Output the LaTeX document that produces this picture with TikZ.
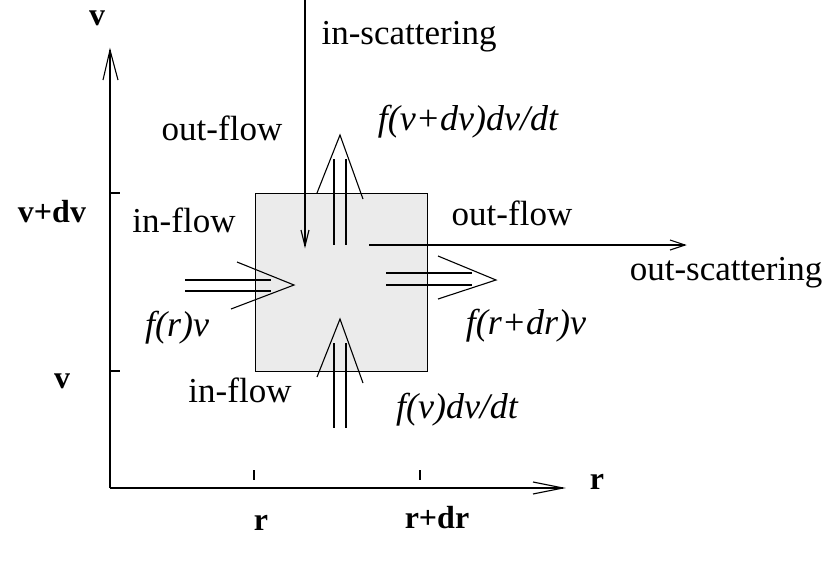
\documentclass[tikz,border=0pt]{standalone}
\usepackage{fontspec}
\setmainfont{Liberation Serif}
\begin{document}
\begin{tikzpicture}[x=1pt,y=-1pt, line width=1.1pt,
  lbl/.style={font=\fontsize{35}{40}\selectfont, inner sep=0pt},
  blbl/.style={font=\fontsize{32}{36}\selectfont\bfseries, inner sep=0pt},
  ilbl/.style={font=\fontsize{36}{40}\selectfont\itshape, inner sep=0pt},
  ln/.style={line width=1.1pt, black}]
\useasboundingbox (0,0) rectangle (828,563);
\definecolor{boxgray}{HTML}{EBEBEB}
% box
\node[draw, line width=1.3pt, fill=boxgray, minimum width=172pt, minimum height=178pt,
      anchor=north west, inner sep=0pt] (box) at (255,193) {};
% axes
\coordinate (O) at (110,488);
\coordinate (vtip) at (110,50);
\coordinate (rtip) at (563,488);
\draw[ln] (O) -- (vtip);
\draw[ln] (103,80) -- (vtip) -- (118,80);
\draw[ln] (O) -- (rtip);
\draw[ln] (533,482) -- (rtip) -- (533,494);
% ticks
\draw[ln] (110,193) -- (120,193);
\draw[ln] (110,371) -- (120,371);
\draw[ln] (254,470) -- (254,480);
\draw[ln] (420,470) -- (420,480);
% left in-flow arrow
\draw[ln] (185,280) -- (271,280);
\draw[ln] (185,291) -- (271,291);
\draw[ln] (237,262) -- (294,285) -- (231,309);
% right out-flow arrow
\draw[ln] (386,273) -- (472,273);
\draw[ln] (386,285) -- (472,285);
\draw[ln] (438,256) -- (496,280) -- (438,299);
% top out-flow arrow
\draw[ln] (334,159) -- (334,245);
\draw[ln] (346,159) -- (346,245);
\draw[ln] (317,193) -- (340,135) -- (363,199);
% bottom in-flow arrow
\draw[ln] (334,343) -- (334,428);
\draw[ln] (346,343) -- (346,428);
\draw[ln] (317,377) -- (340,319) -- (363,383);
% in-scattering
\draw[ln] (305,0) -- (305,246);
\draw[ln] (301,230) -- (305,246) -- (309,230);
% out-scattering
\draw[ln] (369,245) -- (685,245);
\draw[ln] (670,240) -- (685,245) -- (670,250);
% labels
\node[blbl] (lv) at (97,18) {v};
\node[blbl] (lvdv) at (52,212) {v+dv};
\node[blbl] (lv2) at (62,381) {v};
\node[blbl] (lr) at (597,482) {r};
\node[blbl] (lr2) at (261,523) {r};
\node[blbl] (lrdr) at (437,518) {r+dr};
\node[lbl] (tin) at (409,37) {in-scattering};
\node[lbl] (tout1) at (222,128) {out-flow};
\node[ilbl] (f1) at (468,122) {f(v+dv)dv/dt};
\node[lbl] (tin1) at (184,220) {in-flow};
\node[lbl] (tout2) at (512,213) {out-flow};
\node[lbl] (tsc) at (726,273) {out-scattering};
\node[ilbl] (f2) at (177,328) {f(r)v};
\node[ilbl] (f3) at (526,326) {f(r+dr)v};
\node[lbl] (tin2) at (240,390) {in-flow};
\node[ilbl] (f4) at (457,410) {f(v)dv/dt};
\end{tikzpicture}
\end{document}
